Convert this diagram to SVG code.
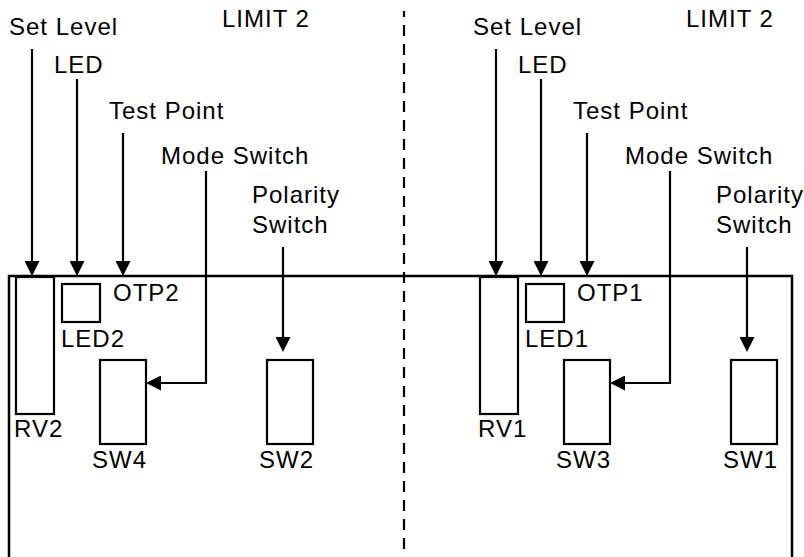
<svg xmlns="http://www.w3.org/2000/svg" width="804" height="557" viewBox="0 0 804 557">
<style>
  text { font-family: "Liberation Sans", Arial, sans-serif; font-size: 24px; letter-spacing: 1px; fill: #000; }
  .part { fill: none; stroke: #000; stroke-width: 2.2; }
  .wire { fill: none; stroke: #000; stroke-width: 2.2; marker-end: url(#arr); }
  .frame { fill: none; stroke: #000; stroke-width: 2.5; }
</style>
<defs>
  <marker id="arr" viewBox="0 0 15 15" refX="11" refY="7.5" markerWidth="15" markerHeight="15" markerUnits="userSpaceOnUse" orient="auto">
    <path d="M0,0 L15,7.5 L0,15 z" fill="#000"/>
  </marker>
</defs>
<rect id="board" class="frame" x="9" y="276" width="783" height="300"/>
<line id="divider" x1="404" y1="11" x2="404" y2="557" stroke="#000" stroke-width="2.2" stroke-dasharray="11 8" stroke-dashoffset="5"/>

<g id="limit2-left">
  <text id="title-left" x="222" y="27">LIMIT 2</text>
  <g id="lbl-setlevel-left"><text x="9" y="35">Set Level</text></g>
  <g id="lbl-led-left"><text x="54" y="73">LED</text></g>
  <g id="lbl-testpoint-left"><text x="109" y="119">Test Point</text></g>
  <g id="lbl-mode-left"><text x="161" y="164">Mode Switch</text></g>
  <g id="lbl-polarity-left"><text x="252" y="203">Polarity</text><text x="252" y="233">Switch</text></g>
  <g id="RV2"><rect class="part" x="16" y="277" width="38" height="137"/><text x="14" y="437">RV2</text></g>
  <g id="LED2"><rect class="part" x="62" y="284" width="38" height="38"/><text x="61" y="347">LED2</text></g>
  <g id="TP2"><text x="113" y="301">OTP2</text></g>
  <g id="SW4"><rect class="part" x="100" y="360" width="46" height="84"/><text x="92" y="468">SW4</text></g>
  <g id="SW2"><rect class="part" x="267" y="360" width="46" height="84"/><text x="259" y="468">SW2</text></g>
  <g id="connectors-left">
    <line class="wire" x1="32" y1="49" x2="32" y2="272"/>
    <line class="wire" x1="77" y1="79" x2="77" y2="272"/>
    <line class="wire" x1="123" y1="133" x2="123" y2="272"/>
    <polyline class="wire" points="206,171 206,383 150,383"/>
    <line class="wire" x1="283" y1="247" x2="283" y2="348"/>
  </g>
</g>

<g id="limit2-right" transform="translate(464,0)">
  <text id="title-right" x="222" y="27">LIMIT 2</text>
  <g id="lbl-setlevel-right"><text x="9" y="35">Set Level</text></g>
  <g id="lbl-led-right"><text x="54" y="73">LED</text></g>
  <g id="lbl-testpoint-right"><text x="109" y="119">Test Point</text></g>
  <g id="lbl-mode-right"><text x="161" y="164">Mode Switch</text></g>
  <g id="lbl-polarity-right"><text x="252" y="203">Polarity</text><text x="252" y="233">Switch</text></g>
  <g id="RV1"><rect class="part" x="16" y="277" width="38" height="137"/><text x="14" y="437">RV1</text></g>
  <g id="LED1"><rect class="part" x="62" y="284" width="38" height="38"/><text x="61" y="347">LED1</text></g>
  <g id="TP1"><text x="113" y="301">OTP1</text></g>
  <g id="SW3"><rect class="part" x="100" y="360" width="46" height="84"/><text x="92" y="468">SW3</text></g>
  <g id="SW1"><rect class="part" x="267" y="360" width="46" height="84"/><text x="259" y="468">SW1</text></g>
  <g id="connectors-right">
    <line class="wire" x1="32" y1="49" x2="32" y2="272"/>
    <line class="wire" x1="77" y1="79" x2="77" y2="272"/>
    <line class="wire" x1="123" y1="133" x2="123" y2="272"/>
    <polyline class="wire" points="206,171 206,383 150,383"/>
    <line class="wire" x1="283" y1="247" x2="283" y2="348"/>
  </g>
</g>
</svg>
